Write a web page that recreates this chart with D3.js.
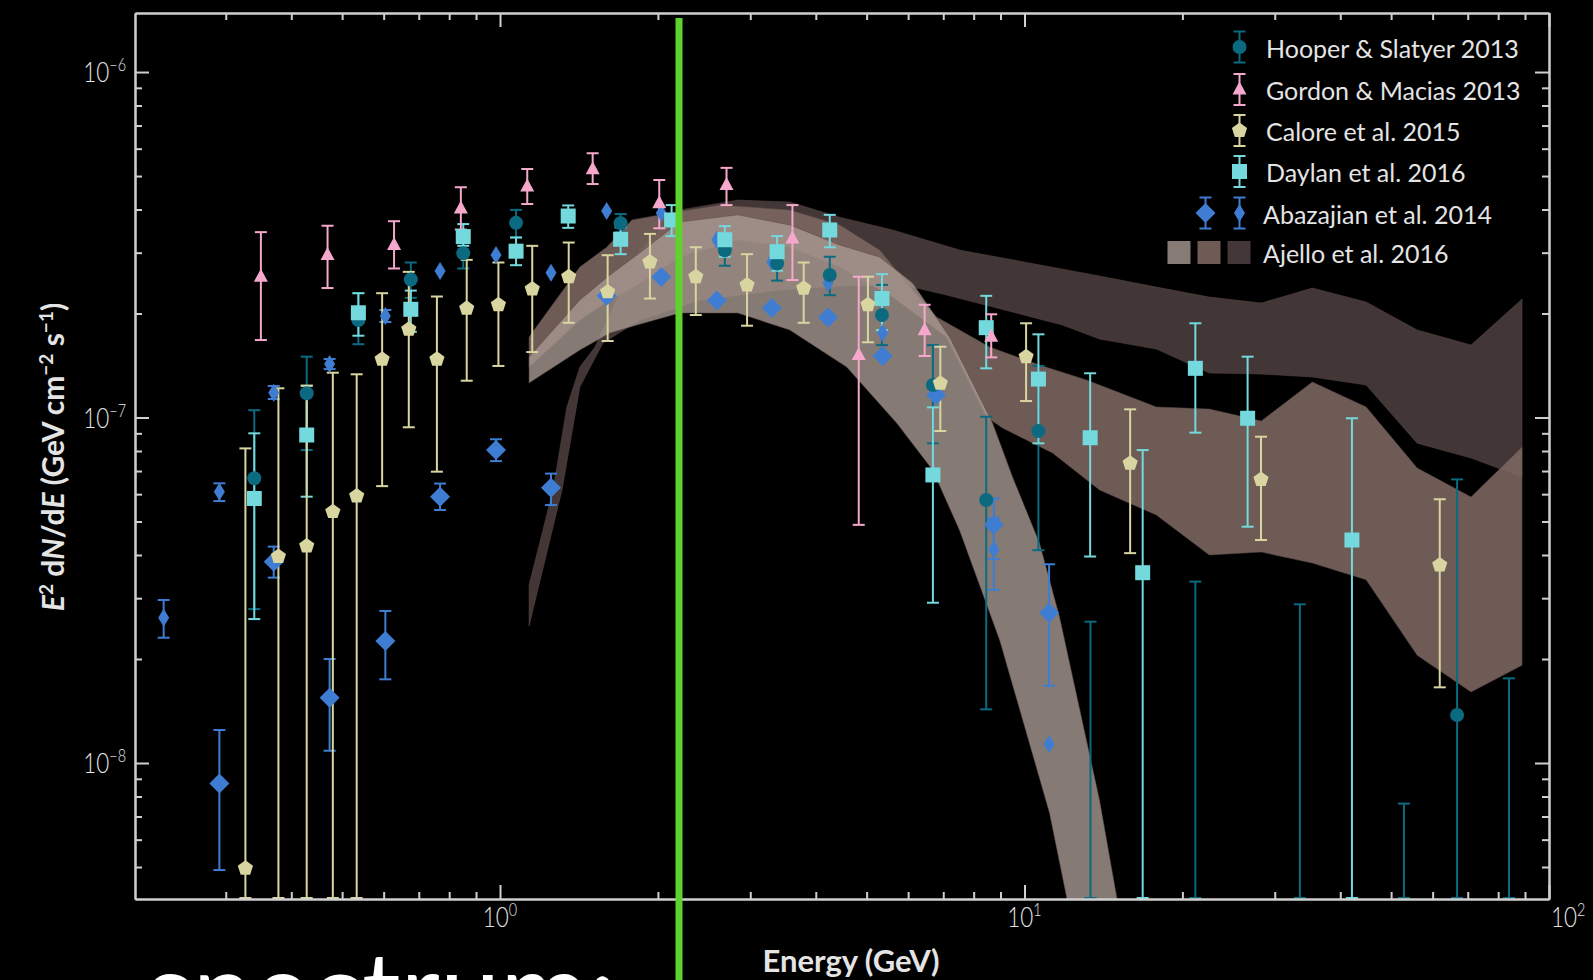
<!DOCTYPE html>
<html>
<head>
<meta charset="utf-8">
<script src="https://cdn.jsdelivr.net/npm/d3@7"></script>
<style>
  body { margin: 0; background: #000; }
  svg { display: block; }
</style>
</head>
<body>
<div id="chart"></div>
<script>
'use strict';

// rows: [energy GeV, E2 dN/dE, lower, upper]  (null lower = bar runs to the axis)
const hooper = [
  [0.340, 6.67e-8, 2.79e-8, 1.05e-7], [0.428, 1.175e-7, 8.05e-8, 1.50e-7],
  [0.537, 1.915e-7, 1.63e-7, 2.29e-7], [0.676, 2.51e-7, 2.22e-7, 2.81e-7],
  [0.851, 2.99e-7, 2.70e-7, 3.27e-7], [1.073, 3.66e-7, 3.32e-7, 3.99e-7],
  [1.698, 3.65e-7, 3.44e-7, 3.88e-7], [2.683, 3.05e-7, 2.75e-7, 3.37e-7],
  [3.375, 2.79e-7, 2.49e-7, 3.09e-7], [4.253, 2.585e-7, 2.26e-7, 2.92e-7],
  [5.348, 1.98e-7, 1.62e-7, 2.42e-7], [6.689, 1.242e-7, 8.42e-8, 1.62e-7],
  [8.453, 5.77e-8, 1.43e-8, 1.005e-7], [10.63, 9.14e-8, 4.13e-8, 1.41e-7],
  [13.36, null, null, 2.565e-8], [21.17, null, null, 3.35e-8],
  [33.5, null, null, 2.88e-8], [52.9, null, null, 7.63e-9],
  [66.8, 1.377e-8, null, 6.62e-8], [83.9, null, null, 1.758e-8]
];

const gordon = [
  [0.350, 2.556e-7, 1.676e-7, 3.44e-7], [0.469, 2.953e-7, 2.37e-7, 3.59e-7],
  [0.628, 3.157e-7, 2.70e-7, 3.70e-7], [0.842, 4.03e-7, 3.50e-7, 4.64e-7],
  [1.127, 4.66e-7, 4.15e-7, 5.24e-7], [1.502, 5.23e-7, 4.74e-7, 5.82e-7],
  [2.012, 4.17e-7, 3.53e-7, 4.87e-7], [2.703, 4.71e-7, 4.12e-7, 5.28e-7],
  [3.61, 3.30e-7, 2.50e-7, 4.12e-7], [4.83, 1.517e-7, 4.89e-8, 2.556e-7],
  [6.45, 1.79e-7, 1.507e-7, 2.12e-7], [8.64, 1.713e-7, 1.493e-7, 1.99e-7]
];

const calore = [
  [0.327, 4.96e-9, null, 8.14e-8], [0.378, 3.96e-8, null, 1.215e-7],
  [0.428, 4.25e-8, null, 1.236e-7], [0.480, 5.34e-8, null, 1.348e-7],
  [0.533, 5.93e-8, null, 1.334e-7], [0.596, 1.474e-7, 6.33e-8, 2.29e-7],
  [0.670, 1.80e-7, 9.37e-8, 2.64e-7], [0.758, 1.474e-7, 6.97e-8, 2.24e-7],
  [0.864, 2.07e-7, 1.278e-7, 2.86e-7], [0.993, 2.12e-7, 1.41e-7, 2.81e-7],
  [1.152, 2.355e-7, 1.547e-7, 3.14e-7], [1.352, 2.556e-7, 1.88e-7, 3.21e-7],
  [1.604, 2.31e-7, 1.665e-7, 2.95e-7], [1.931, 2.82e-7, 2.21e-7, 3.40e-7],
  [2.362, 2.556e-7, 1.98e-7, 3.11e-7], [2.958, 2.42e-7, 1.844e-7, 2.97e-7],
  [3.793, 2.366e-7, 1.88e-7, 2.81e-7], [5.029, 2.12e-7, 1.651e-7, 2.556e-7],
  [6.91, 1.256e-7, 9.14e-8, 1.603e-7], [10.07, 1.50e-7, 1.116e-7, 1.874e-7],
  [15.90, 7.37e-8, 4.05e-8, 1.056e-7], [28.24, 6.62e-8, 4.42e-8, 8.80e-8],
  [61.9, 3.74e-8, 1.656e-8, 5.80e-8]
];

const daylan = [
  [0.340, 5.83e-8, 2.61e-8, 9.0e-8], [0.428, 8.9e-8, 5.90e-8, 1.236e-7],
  [0.537, 2.01e-7, 1.725e-7, 2.29e-7], [0.676, 2.057e-7, 1.77e-7, 2.33e-7],
  [0.851, 3.34e-7, 3.14e-7, 3.63e-7], [1.073, 3.03e-7, 2.76e-7, 3.32e-7],
  [1.349, 3.83e-7, 3.54e-7, 4.11e-7], [1.698, 3.28e-7, 2.97e-7, 3.55e-7],
  [2.124, 3.73e-7, 3.35e-7, 4.12e-7], [2.683, 3.27e-7, 2.92e-7, 3.58e-7],
  [3.375, 3.02e-7, 2.66e-7, 3.35e-7], [4.253, 3.49e-7, 3.11e-7, 3.86e-7],
  [5.348, 2.21e-7, 1.79e-7, 2.60e-7], [6.689, 6.82e-8, 2.91e-8, 1.07e-7],
  [8.453, 1.82e-7, 1.388e-7, 2.25e-7], [10.63, 1.292e-7, 8.42e-8, 1.741e-7],
  [13.34, 8.74e-8, 3.96e-8, 1.343e-7], [16.80, 3.555e-8, null, 8.05e-8],
  [21.17, 1.388e-7, 9.04e-8, 1.874e-7], [26.63, 9.95e-8, 4.83e-8, 1.50e-7],
  [42.1, 4.42e-8, null, 9.95e-8]
];

// Abazajian et al. 2014, two sets (large and narrow diamonds)
const abazajianWide = [
  [0.2917, 8.73e-9, 4.90e-9, 1.246e-8], [0.3703, 3.825e-8, 3.44e-8, 4.23e-8],
  [0.4733, 1.545e-8, 1.085e-8, 2.0e-8], [0.6045, 2.255e-8, 1.747e-8, 2.754e-8],
  [0.7686, 5.90e-8, 5.40e-8, 6.44e-8], [0.9826, 8.05e-8, 7.48e-8, 8.65e-8],
  [1.251, 6.26e-8, 5.58e-8, 6.88e-8], [1.597, 2.25e-7, null, null],
  [2.030, 2.55e-7, null, null], [2.590, 2.18e-7, null, null],
  [3.298, 2.074e-7, null, null], [4.221, 1.948e-7, null, null],
  [5.364, 1.507e-7, null, null], [6.784, 1.162e-7, null, null],
  [8.742, 4.89e-8, 3.89e-8, 5.83e-8], [11.14, 2.72e-8, 1.674e-8, 3.76e-8]
];

const abazajianNarrow = [
  [0.2284, 2.634e-8, 2.305e-8, 2.963e-8], [0.2917, 6.10e-8, 5.73e-8, 6.45e-8],
  [0.3703, 1.18e-7, 1.131e-7, 1.234e-7], [0.4733, 1.429e-7, 1.381e-7, 1.477e-7],
  [0.6045, 1.967e-7, 1.89e-7, 2.047e-7], [0.7686, 2.655e-7, null, null],
  [0.9826, 2.953e-7, null, null], [1.251, 2.625e-7, null, null],
  [1.597, 3.96e-7, null, null], [2.030, 3.91e-7, null, null],
  [2.590, 3.27e-7, null, null], [3.298, 2.82e-7, null, null],
  [4.221, 2.45e-7, null, null], [5.364, 1.756e-7, null, null],
  [8.742, 4.15e-8, 3.17e-8, 5.11e-8], [11.14, 1.133e-8, null, null]
];

// Ajello et al. 2016 bands: [energy, E2 dN/dE] along upper and lower edges
const ajelloDarkUpper = [
  [1.136, 3.28e-8], [1.262, 6.17e-8], [1.341, 1.073e-7], [1.42, 1.40e-7], [1.517, 1.60e-7],
  [1.848, 3.054e-7], [2.202, 3.99e-7], [2.84, 4.26e-7], [3.567, 4.205e-7], [4.443, 3.80e-7],
  [5.606, 3.49e-7], [7.518, 3.054e-7], [13.9, 2.568e-7], [17.84, 2.385e-7], [22.51, 2.232e-7],
  [28.28, 2.145e-7], [35.38, 2.37e-7], [44.81, 2.16e-7], [56.06, 1.792e-7], [71.02, 1.621e-7],
  [88.85, 2.203e-7]
];
const ajelloDarkLower = [
  [1.136, 2.49e-8], [1.313, 6.17e-8], [1.42, 1.226e-7], [1.571, 1.642e-7], [1.848, 1.915e-7],
  [2.404, 2.188e-7], [3.415, 2.339e-7], [4.642, 2.416e-7], [6.118, 2.385e-7], [7.102, 2.262e-7],
  [9.487, 2.02e-7], [11.81, 1.852e-7], [13.9, 1.687e-7], [17.84, 1.578e-7], [22.51, 1.345e-7],
  [28.28, 1.336e-7], [35.38, 1.31e-7], [44.81, 1.242e-7], [56.06, 8.43e-8], [71.02, 7.63e-8],
  [88.85, 6.73e-8]
];
const ajelloMidUpper = [
  [1.136, 1.71e-7], [1.42, 2.727e-7], [1.599, 3.115e-7], [1.784, 3.73e-7], [2.154, 3.93e-7],
  [2.624, 4.12e-7], [3.567, 3.99e-7], [4.443, 3.61e-7], [5.294, 3.054e-7], [6.118, 2.339e-7],
  [6.798, 1.954e-7], [8.577, 1.60e-7], [10.68, 1.419e-7], [13.13, 1.284e-7], [17.84, 1.073e-7],
  [22.51, 1.058e-7], [28.28, 9.77e-8], [35.38, 1.267e-7], [44.81, 1.073e-7], [56.06, 7.14e-8],
  [71.02, 5.89e-8], [88.85, 8.21e-8]
];
const ajelloMidLower = [
  [1.136, 1.40e-7], [1.42, 1.915e-7], [1.62, 2.188e-7], [1.824, 2.416e-7], [2.202, 2.914e-7],
  [2.84, 3.265e-7], [3.567, 3.115e-7], [4.443, 2.727e-7], [5.606, 2.232e-7], [7.102, 1.71e-7],
  [8.466, 1.003e-7], [9.081, 9.32e-8], [11.31, 7.89e-8], [13.9, 6.17e-8], [17.84, 5.22e-8],
  [22.51, 4.0e-8], [28.28, 4.08e-8], [35.38, 3.79e-8], [44.81, 3.39e-8], [56.06, 2.05e-8],
  [71.02, 1.605e-8], [88.85, 1.92e-8]
];
const ajelloLightUpper = [
  [1.136, 1.497e-7], [1.42, 2.188e-7], [1.62, 2.585e-7], [1.824, 2.953e-7], [2.202, 3.68e-7],
  [2.84, 3.86e-7], [3.567, 3.61e-7], [4.443, 3.157e-7], [5.294, 2.914e-7], [6.118, 2.45e-7],
  [7.197, 1.71e-7], [7.962, 1.259e-7], [8.69, 9.64e-8], [9.487, 6.73e-8], [10.68, 4.33e-8],
  [11.66, 2.65e-8], [13.9, 7.81e-9], [15.5, 3.07e-9]
];
const ajelloLightLower = [
  [1.136, 1.259e-7], [1.42, 1.568e-7], [1.62, 1.756e-7], [1.824, 1.852e-7], [2.202, 2.007e-7],
  [2.84, 2.007e-7], [3.567, 1.792e-7], [4.581, 1.40e-7], [5.705, 9.64e-8], [6.68, 7.05e-8],
  [7.518, 4.72e-8], [8.965, 2.27e-8], [11.16, 7.17e-9], [12.5, 3.07e-9]
];

const xMajorTicks = [1, 10, 100];
const xTickExps = ['0', '1', '2'];
const yMajorTicks = [1e-8, 1e-7, 1e-6];
const yTickExps = ['−8', '−7', '−6'];
const legendNames = ['Hooper & Slatyer 2013', 'Gordon & Macias 2013', 'Calore et al. 2015',
  'Daylan et al. 2016', 'Abazajian et al. 2014', 'Ajello et al. 2016'];

const width = 1593;
const height = 980;

const colors = {
  hooper: '#0b6a80',
  gordon: '#f5a8cb',
  calore: '#d8d5a0',
  daylan: '#74d9dd',
  abazajian: '#3f7dd3',
  bandLight: '#a79891',
  bandMid: '#7d6862',
  bandDark: '#463939',
  axis: '#cfcfcf',
  text: '#e4e4e4',
  green: '#5fd22d'
};

const svg = d3.select('#chart')
  .append('svg')
  .attr('width', width)
  .attr('height', height)
  .style('background', '#000');

const x = d3.scaleLog().domain([0.2014, 100]).range([135, 1549]);
const y = d3.scaleLog().domain([4.04e-9, 1.482e-6]).range([899, 13]);
const yBottom = y.range()[0];

svg.append('defs').append('clipPath')
  .attr('id', 'plot-clip')
  .append('rect')
  .attr('x', 135).attr('y', 13)
  .attr('width', 1549 - 135).attr('height', 899 - 13);

const plot = svg.append('g').attr('clip-path', 'url(#plot-clip)');

// bands
const edge = d3.line().x(d => x(d[0])).y(d => y(d[1]));
function bandPath(upper, lower) {
  return edge(upper.concat(lower.slice().reverse())) + 'Z';
}

const bands = [
  { up: ajelloDarkUpper, lo: ajelloDarkLower, fill: colors.bandDark, op: 0.95 },
  { up: ajelloMidUpper, lo: ajelloMidLower, fill: colors.bandMid, op: 0.88 },
  { up: ajelloLightUpper, lo: ajelloLightLower, fill: colors.bandLight, op: 0.8 }
];

plot.selectAll('path.band')
  .data(bands)
  .join('path')
  .attr('class', 'band')
  .attr('d', d => bandPath(d.up, d.lo))
  .attr('fill', d => d.fill)
  .attr('fill-opacity', d => d.op)
  .attr('stroke', '#5a4a46')
  .attr('stroke-width', 0.7)
  .attr('stroke-opacity', 0.7);

// marker shapes
function pentagon(r) {
  const pts = d3.range(5).map(i => {
    const a = -Math.PI / 2 + i * 2 * Math.PI / 5;
    return [r * Math.cos(a), r * Math.sin(a)];
  });
  return 'M' + pts.map(p => p.join(',')).join('L') + 'Z';
}
const shapes = {
  circle: d3.symbol(d3.symbolCircle, Math.PI * 49)(),
  triangle: 'M0,-8L7,5L-7,5Z',
  pentagon: pentagon(8),
  square: 'M-7.5,-7.5H7.5V7.5H-7.5Z',
  diamond: 'M0,-10L10,0L0,10L-10,0Z',
  thinDiamond: 'M0,-9L5.5,0L0,9L-5.5,0Z'
};

const series = [
  { data: abazajianWide, color: colors.abazajian, shape: 'diamond' },
  { data: abazajianNarrow, color: colors.abazajian, shape: 'thinDiamond' },
  { data: hooper, color: colors.hooper, shape: 'circle' },
  { data: daylan, color: colors.daylan, shape: 'square' },
  { data: calore, color: colors.calore, shape: 'pentagon' },
  { data: gordon, color: colors.gordon, shape: 'triangle' }
];

const capHalf = 6;
function barBottom(d) { return d[2] === null ? yBottom - 1 : y(d[2]); }

// error bars first, then markers on top
series.forEach(s => {
  const withBars = s.data.filter(d => d[3] !== null);
  const g = plot.append('g')
    .attr('stroke', s.color)
    .attr('stroke-width', 2)
    .attr('fill', 'none');

  g.selectAll('line.stem')
    .data(withBars)
    .join('line')
    .attr('class', 'stem')
    .attr('x1', d => x(d[0])).attr('x2', d => x(d[0]))
    .attr('y1', d => y(d[3])).attr('y2', barBottom);

  g.selectAll('line.cap-top')
    .data(withBars)
    .join('line')
    .attr('class', 'cap-top')
    .attr('x1', d => x(d[0]) - capHalf).attr('x2', d => x(d[0]) + capHalf)
    .attr('y1', d => y(d[3])).attr('y2', d => y(d[3]));

  g.selectAll('line.cap-bottom')
    .data(withBars)
    .join('line')
    .attr('class', 'cap-bottom')
    .attr('x1', d => x(d[0]) - capHalf).attr('x2', d => x(d[0]) + capHalf)
    .attr('y1', barBottom).attr('y2', barBottom);
});

series.forEach(s => {
  plot.append('g')
    .selectAll('path')
    .data(s.data.filter(d => d[1] !== null))
    .join('path')
    .attr('d', shapes[s.shape])
    .attr('transform', d => `translate(${x(d[0])},${y(d[1])})`)
    .attr('fill', s.color);
});

// axes (ticks point inward on all four sides)
const xMinorTicks = [0.3, 0.4, 0.5, 0.6, 0.7, 0.8, 0.9, 2, 3, 4, 5, 6, 7, 8, 9, 20, 30, 40, 50, 60, 70, 80, 90];
const yMinorTicks = [5e-9, 6e-9, 7e-9, 8e-9, 9e-9, 2e-8, 3e-8, 4e-8, 5e-8, 6e-8, 7e-8, 8e-8, 9e-8,
  2e-7, 3e-7, 4e-7, 5e-7, 6e-7, 7e-7, 8e-7, 9e-7];

function addAxis(axisFn, scale, transform, values, size) {
  const g = svg.append('g')
    .attr('transform', transform)
    .attr('color', colors.axis)
    .call(axisFn(scale).tickValues(values).tickSize(size).tickSizeOuter(0).tickFormat(''));
  g.selectAll('line').attr('stroke-width', 2);
  g.select('.domain').attr('stroke-width', 2);
  return g;
}

addAxis(d3.axisBottom, x, 'translate(0,899)', xMajorTicks, -14);
addAxis(d3.axisBottom, x, 'translate(0,899)', xMinorTicks, -7);
addAxis(d3.axisTop, x, 'translate(0,13)', xMajorTicks, -14);
addAxis(d3.axisTop, x, 'translate(0,13)', xMinorTicks, -7);
addAxis(d3.axisLeft, y, 'translate(135,0)', yMajorTicks, -14);
addAxis(d3.axisLeft, y, 'translate(135,0)', yMinorTicks, -7);
addAxis(d3.axisRight, y, 'translate(1549,0)', yMajorTicks, -14);
addAxis(d3.axisRight, y, 'translate(1549,0)', yMinorTicks, -7);

// tick labels 10^n
const labelFont = 'Lato, "Open Sans", sans-serif';

xMajorTicks.forEach((v, i) => {
  const last = i === xMajorTicks.length - 1;
  const t = svg.append('text')
    .attr('transform', `translate(${x(v) + (last ? 2 : 0)},927) scale(0.8,1)`)
    .attr('text-anchor', last ? 'start' : 'middle')
    .attr('fill', colors.text)
    .style('font-family', labelFont)
    .style('font-weight', 300)
    .style('font-size', '28px');
  t.append('tspan').text('10');
  t.append('tspan').attr('dy', -11).style('font-size', '18px').text(xTickExps[i]);
});

yMajorTicks.forEach((v, i) => {
  const t = svg.append('text')
    .attr('transform', `translate(126,${y(v) + 10}) scale(0.8,1)`)
    .attr('text-anchor', 'end')
    .attr('fill', colors.text)
    .style('font-family', labelFont)
    .style('font-weight', 300)
    .style('font-size', '28px');
  t.append('tspan').text('10');
  t.append('tspan').attr('dy', -11).style('font-size', '18px').text(yTickExps[i]);
});

// axis titles
svg.append('text')
  .attr('x', 851).attr('y', 972)
  .attr('text-anchor', 'middle')
  .attr('fill', colors.text)
  .style('font-family', labelFont)
  .style('font-weight', 700)
  .style('font-size', '31px')
  .text('Energy (GeV)');

const yTitle = svg.append('text')
  .attr('transform', 'translate(64,457) rotate(-90)')
  .attr('text-anchor', 'middle')
  .attr('fill', colors.text)
  .style('font-family', labelFont)
  .style('font-weight', 700)
  .style('font-size', '30px');
yTitle.append('tspan').style('font-style', 'italic').text('E');
yTitle.append('tspan').attr('dy', -11).style('font-size', '19px').text('2');
yTitle.append('tspan').attr('dy', 11).text(' d');
yTitle.append('tspan').style('font-style', 'italic').text('N');
yTitle.append('tspan').text('/d');
yTitle.append('tspan').style('font-style', 'italic').text('E');
yTitle.append('tspan').text(' (GeV cm');
yTitle.append('tspan').attr('dy', -11).style('font-size', '19px').text('−2');
yTitle.append('tspan').attr('dy', 11).text(' s');
yTitle.append('tspan').attr('dy', -11).style('font-size', '19px').text('−1');
yTitle.append('tspan').attr('dy', 11).text(')');

// legend
const legendRows = [47, 89.5, 130.5, 171.5, 213, 252.5];
const legendSymbols = [
  [{ cx: 1239.5, shape: 'circle', color: colors.hooper }],
  [{ cx: 1239.5, shape: 'triangle', color: colors.gordon }],
  [{ cx: 1239.5, shape: 'pentagon', color: colors.calore }],
  [{ cx: 1239.5, shape: 'square', color: colors.daylan }],
  [{ cx: 1205.5, shape: 'diamond', color: colors.abazajian },
   { cx: 1239.5, shape: 'thinDiamond', color: colors.abazajian }]
];
const legend = svg.append('g');

legendSymbols.forEach((row, i) => {
  const cy = legendRows[i];
  row.forEach(s => {
    const g = legend.append('g').attr('stroke', s.color).attr('stroke-width', 2);
    g.append('line').attr('x1', s.cx).attr('x2', s.cx).attr('y1', cy - 15.5).attr('y2', cy + 15.5);
    g.append('line').attr('x1', s.cx - capHalf).attr('x2', s.cx + capHalf).attr('y1', cy - 15.5).attr('y2', cy - 15.5);
    g.append('line').attr('x1', s.cx - capHalf).attr('x2', s.cx + capHalf).attr('y1', cy + 15.5).attr('y2', cy + 15.5);
    legend.append('path')
      .attr('d', shapes[s.shape])
      .attr('transform', `translate(${s.cx},${cy})`)
      .attr('fill', s.color);
  });
});

legend.selectAll('rect.swatch')
  .data(['#877b76', '#6e5b55', '#443737'])
  .join('rect')
  .attr('class', 'swatch')
  .attr('x', (d, i) => 1167.5 + i * 30)
  .attr('y', legendRows[5] - 11.5)
  .attr('width', 23).attr('height', 23)
  .attr('fill', d => d);

legend.selectAll('text')
  .data(legendNames)
  .join('text')
  .attr('x', (d, i) => i < 4 ? 1266 : 1263)
  .attr('y', (d, i) => legendRows[i] + 10.5)
  .attr('fill', colors.text)
  .style('font-family', labelFont)
  .style('font-size', '25px')
  .text(d => d);

// green marker line
svg.append('rect')
  .attr('x', 675.5).attr('y', 18)
  .attr('width', 7).attr('height', height - 18)
  .attr('fill', colors.green);

// slide caption cut off at the bottom
svg.append('text')
  .attr('x', 146).attr('y', 1030)
  .attr('fill', '#ffffff')
  .style('font-family', labelFont)
  .style('font-size', '108px')
  .text('spectrum:');
</script>
</body>
</html>
